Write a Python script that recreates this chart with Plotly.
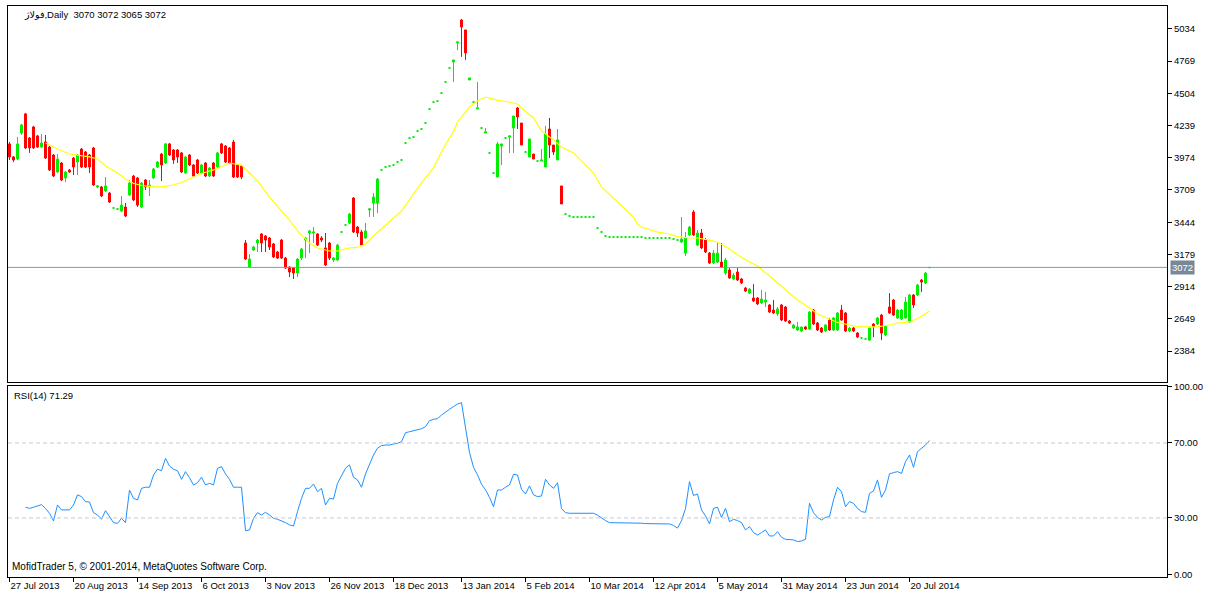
import plotly.graph_objects as go

# ---------------- data ----------------
symbol_title = "فولاژ,Daily  3070 3072 3065 3072"
rsi_title = "RSI(14) 71.29"
footer_text = "MofidTrader 5, © 2001-2014, MetaQuotes Software Corp."
last_price = 3072

tick_bars = [0, 16, 32, 48, 64, 80, 96, 113, 129, 145, 161, 177, 193, 209, 225]
tick_dates = ["27 Jul 2013", "20 Aug 2013", "14 Sep 2013", "6 Oct 2013", "3 Nov 2013",
              "26 Nov 2013", "18 Dec 2013", "13 Jan 2014", "5 Feb 2014", "10 Mar 2014",
              "12 Apr 2014", "5 May 2014", "31 May 2014", "23 Jun 2014", "20 Jul 2014"]

price_ticks = [5034, 4769, 4504, 4239, 3974, 3709, 3444, 3179, 2914, 2649, 2384]
rsi_ticks = [0, 30, 70, 100]
rsi_tick_text = ["0.00", "30.00", "70.00", "100.00"]
rsi_levels = [30, 70]

opens = [
    4088, 3981, 3964, 4178, 4335, 4137, 4228, 4154, 4063, 4104,
    4063, 3997, 3857, 3931, 3808, 3874, 3972, 3939, 4046, 4022,
    3997, 4055, 3734, 3734, 3701, 3684, 3561, 3553, 3536, 3569,
    3668, 3824, 3808, 3569, 3791, 3734, 3808, 3898, 4005, 3931,
    4088, 4038, 4038, 4014, 3849, 3997, 3915, 3956, 3849, 3931,
    3824, 3931, 3898, 4088, 4071, 4055, 4104, 3915, 3906,
    3273, 3075, 3215, 3273, 3347, 3330, 3314, 3265, 3199, 3297,
    3149, 3075, 3067, 3026, 3149, 3297, 3355, 3355, 3347, 3314,
    3232, 3273, 3133, 3133, 3363, 3421, 3437, 3643, 3404, 3363,
    3314, 3544, 3602, 3602, 3874, 3898, 3906, 3915, 3939, 3956,
    4096, 4137, 4145, 4195, 4211, 4260, 4376, 4433, 4441, 4507, 4598, 4713,
    4762, 4919, 5108, 5026, 4614, 4433, 4376, 4219, 4178, 4014,
    3849, 3816, 4071, 4137, 4145, 4219, 4384, 4260, 4022, 3981,
    4005, 3948, 3948, 3898, 4211, 4079, 3956, 3742, 3511, 3495,
    3487, 3487, 3487, 3487, 3487, 3487, 3396, 3363, 3330,
    3322, 3322, 3322, 3322, 3322, 3322, 3322, 3322, 3322,
    3314, 3314, 3314, 3314, 3314, 3314, 3314, 3306, 3297,
    3281, 3190, 3339, 3528, 3256, 3355, 3297, 3190, 3108, 3116,
    3116, 3026, 3051, 2977, 3034, 2977, 2902, 2861, 2820, 2820,
    2779, 2787, 2763, 2721, 2689, 2763, 2746, 2631, 2573, 2557,
    2549, 2582, 2565, 2721, 2614, 2573, 2549, 2639, 2557, 2557,
    2721, 2697, 2549, 2573, 2532, 2491, 2483, 2474, 2606, 2606,
    2680, 2516, 2746, 2804, 2656, 2647, 2656, 2623, 2845, 2845,
    2968, 2944, 3070,
]
highs = [
    4104, 3989, 4145, 4252, 4343, 4145, 4236, 4162, 4170, 4162,
    4071, 4005, 4005, 3939, 3865, 3882, 3981, 4005, 4055, 4030,
    4005, 4063, 3750, 3742, 3816, 3693, 3561, 3553, 3660, 3602,
    3791, 3832, 3816, 3775, 3799, 3791, 3890, 3948, 4014, 4096,
    4096, 4046, 4046, 4022, 3989, 4005, 3923, 3964, 3923, 3939,
    3898, 3939, 4022, 4096, 4079, 4063, 4121, 3923, 3915,
    3297, 3182, 3248, 3306, 3355, 3339, 3322, 3273, 3207, 3306,
    3158, 3083, 3075, 3149, 3232, 3322, 3380, 3404, 3355, 3330,
    3355, 3281, 3158, 3265, 3363, 3421, 3520, 3651, 3413, 3380,
    3437, 3561, 3684, 3808, 3874, 3898, 3906, 3915, 3939, 3956,
    4096, 4137, 4145, 4195, 4211, 4260, 4376, 4433, 4441, 4507, 4598, 4713,
    4779, 4927, 5116, 5026, 4631, 4433, 4598, 4219, 4219, 4014,
    3849, 4104, 4088, 4137, 4154, 4318, 4392, 4260, 4022, 4129,
    4005, 3948, 4046, 4236, 4302, 4079, 4211, 3742, 3511, 3495,
    3487, 3487, 3487, 3487, 3487, 3487, 3396, 3363, 3330,
    3322, 3322, 3322, 3322, 3322, 3322, 3322, 3322, 3322,
    3314, 3314, 3314, 3314, 3314, 3314, 3314, 3306, 3297,
    3487, 3363, 3413, 3544, 3380, 3388, 3314, 3199, 3215, 3273,
    3273, 3149, 3067, 3026, 3067, 2985, 2911, 2902, 2935, 2828,
    2886, 2870, 2771, 2804, 2746, 2771, 2754, 2639, 2606, 2623,
    2582, 2590, 2713, 2730, 2623, 2582, 2606, 2656, 2664, 2705,
    2763, 2705, 2582, 2582, 2540, 2491, 2483, 2582, 2614, 2664,
    2689, 2598, 2861, 2812, 2730, 2730, 2828, 2853, 2853, 2935,
    2977, 3034, 3072,
]
lows = [
    3956, 3939, 3956, 4162, 4046, 4014, 4046, 4055, 4055, 3964,
    3865, 3816, 3849, 3783, 3775, 3849, 3832, 3832, 3890, 3890,
    3849, 3742, 3725, 3651, 3693, 3602, 3561, 3553, 3528, 3487,
    3660, 3618, 3569, 3561, 3709, 3660, 3799, 3890, 3783, 3923,
    3989, 3923, 3931, 3849, 3841, 3906, 3816, 3841, 3841, 3816,
    3816, 3816, 3890, 4005, 3931, 3923, 3808, 3808, 3799,
    3133, 3067, 3207, 3199, 3199, 3199, 3215, 3149, 3141, 3141,
    3059, 2993, 2977, 2993, 3133, 3149, 3190, 3273, 3248, 3281,
    3083, 3133, 3116, 3125, 3363, 3421, 3429, 3355, 3322, 3248,
    3306, 3487, 3487, 3520, 3874, 3898, 3906, 3915, 3939, 3956,
    4096, 4137, 4145, 4195, 4211, 4260, 4376, 4433, 4441, 4507, 4598, 4713,
    4598, 4861, 4804, 4779, 4614, 4433, 4376, 4219, 4178, 4014,
    3849, 3816, 3915, 4137, 4014, 4014, 4211, 4079, 4022, 3981,
    3964, 3948, 3948, 3898, 3972, 3997, 3956, 3594, 3511, 3495,
    3487, 3487, 3487, 3487, 3487, 3487, 3396, 3363, 3330,
    3322, 3322, 3322, 3322, 3322, 3322, 3322, 3322, 3322,
    3314, 3314, 3314, 3314, 3314, 3314, 3314, 3306, 3297,
    3273, 3166, 3330, 3330, 3248, 3223, 3190, 3100, 3100, 3108,
    3067, 3009, 2977, 2968, 2960, 2935, 2870, 2853, 2787, 2763,
    2771, 2746, 2697, 2689, 2672, 2631, 2623, 2606, 2565, 2549,
    2540, 2557, 2557, 2598, 2549, 2532, 2540, 2549, 2549, 2549,
    2631, 2540, 2540, 2540, 2491, 2491, 2483, 2466, 2499, 2598,
    2474, 2507, 2689, 2672, 2647, 2639, 2647, 2614, 2738, 2837,
    2870, 2935, 3065,
]
closes = [
    3981, 3956, 4088, 4244, 4055, 4055, 4055, 4063, 4096, 3972,
    3874, 3824, 3964, 3791, 3857, 3857, 3898, 3997, 3898, 3898,
    3898, 3750, 3742, 3660, 3742, 3610, 3561, 3553, 3585, 3495,
    3767, 3627, 3585, 3767, 3734, 3750, 3882, 3939, 3915, 4088,
    3997, 3956, 3981, 3857, 3981, 3915, 3824, 3849, 3915, 3824,
    3890, 3824, 4014, 4014, 3939, 3931, 3816, 3816, 3816,
    3141, 3141, 3240, 3297, 3273, 3297, 3240, 3158, 3149, 3149,
    3067, 3034, 3026, 3141, 3223, 3314, 3372, 3363, 3256, 3297,
    3092, 3149, 3149, 3256, 3363, 3421, 3511, 3363, 3355, 3256,
    3372, 3553, 3651, 3799, 3874, 3898, 3906, 3915, 3939, 3956,
    4096, 4137, 4145, 4195, 4211, 4260, 4376, 4433, 4441, 4507, 4598, 4713,
    4779, 4927, 5050, 4837, 4631, 4433, 4384, 4219, 4187, 4014,
    3849, 4088, 4088, 4137, 4154, 4318, 4310, 4079, 4022, 4129,
    3964, 3948, 3956, 4170, 4079, 4022, 4121, 3594, 3511, 3495,
    3487, 3487, 3487, 3487, 3487, 3487, 3396, 3363, 3330,
    3322, 3322, 3322, 3322, 3322, 3322, 3322, 3322, 3322,
    3314, 3314, 3314, 3314, 3314, 3314, 3314, 3306, 3297,
    3306, 3314, 3404, 3339, 3355, 3232, 3199, 3108, 3190, 3190,
    3075, 3133, 2985, 3009, 2968, 2944, 2878, 2894, 2796, 2771,
    2812, 2804, 2705, 2697, 2730, 2639, 2631, 2614, 2598, 2582,
    2582, 2565, 2705, 2606, 2557, 2540, 2598, 2557, 2656, 2697,
    2639, 2549, 2573, 2549, 2499, 2491, 2483, 2573, 2582, 2656,
    2532, 2590, 2697, 2680, 2721, 2721, 2787, 2845, 2763, 2927,
    2952, 3026, 3072,
]

# yellow moving average, read at these bars
ma_bars = [9, 10, 12, 15, 18, 20, 22, 24, 27, 29, 31, 33, 36, 38, 41, 43, 46, 48, 51, 53,
           55, 57, 58, 60, 62, 65, 67, 68, 70, 72, 75, 77, 80, 82, 85, 87, 89, 91, 93, 96,
           98, 101, 103, 106, 108, 110, 111, 112, 113, 115, 117, 119, 121, 122, 125, 127, 128,
           131, 133, 136, 138, 141, 143, 146, 148, 151, 153, 156, 157, 158, 160, 162, 165, 167,
           170, 172, 175, 177, 180, 182, 185, 187, 190, 192, 195, 197, 200, 202, 205, 207, 210,
           212, 215, 217, 220, 222, 225, 227, 229, 230]
ma_vals = [4096, 4079, 4046, 4005, 3989, 3981, 3964, 3906, 3849, 3799, 3763, 3746, 3734, 3734,
           3750, 3771, 3816, 3845, 3874, 3903, 3931, 3919, 3915, 3849, 3783, 3651, 3577, 3544,
           3462, 3372, 3273, 3232, 3207, 3207, 3232, 3236, 3265, 3330, 3388, 3470, 3536, 3676,
           3767, 3890, 4022, 4137, 4187, 4269, 4310, 4392, 4441, 4474, 4457, 4446, 4433, 4417,
           4384, 4302, 4195, 4121, 4063, 4014, 3948, 3849, 3734, 3643, 3585, 3487, 3429, 3404,
           3384, 3363, 3347, 3326, 3314, 3314, 3297, 3281, 3223, 3174, 3116, 3083, 3001, 2944,
           2861, 2804, 2738, 2689, 2647, 2619, 2598, 2582, 2582, 2582, 2598, 2614, 2623, 2652,
           2689, 2713]

rsi = [None, None, None, None,
       35.7, 35.1, 35.7, 36.4, 37.1, 35.1,
       32.5, 28.4, 36.9, 34.3, 34.3, 34.3, 36.9, 42.3, 41.4, 38.7,
       38.5, 32.8, 31.6, 29.3, 33.9, 30.7, 27.5, 27.1, 29.8, 27.5,
       44.9, 40.5, 39.6, 45.8, 46.4, 46.4, 52.9, 56.0, 55.2, 61.8,
       57.7, 56.0, 55.2, 50.6, 54.7, 51.5, 47.6, 48.8, 51.7, 47.6,
       48.5, 47.6, 56.5, 57.4, 53.5, 50.6, 46.4, 46.4, 46.4,
       23.2, 23.6, 29.8, 32.8, 31.6, 33.0, 31.6, 29.8, 29.3, 28.6,
       27.5, 26.3, 25.7, 33.4, 40.5, 45.8, 45.8, 48.1, 44.0, 45.8,
       36.9, 40.5, 40.1, 48.5, 52.4, 56.5, 58.3, 51.7, 50.3, 46.4,
       53.5, 58.3, 63.6, 67.2, 68.6, 68.9, 68.9, 69.5, 69.8, 70.7,
       75.5, 76.0, 76.6, 77.3, 77.6, 78.7, 81.9, 82.6, 83.0, 84.9,
       86.7, 88.0, 89.4, 90.8, 91.5,
       77.0, 65.0, 57.0, 53.0, 48.0, 45.0, 41.0, 36.0,
       44.9, 44.9, 46.4, 47.6, 53.3, 52.9, 45.3, 42.8, 47.1, 42.3,
       41.4, 41.7, 50.6, 47.6, 45.8, 48.8, 35.1, 32.8, 32.5,
       32.5, 32.5, 32.5, 32.5, 32.5, 32.5, 31.5, 29.8, 28.6, 27.5,
       27.5, 27.4, 27.4, 27.3, 27.3, 27.3, 27.2, 27.2, 27.0, 27.0,
       27.0, 26.9, 26.9, 26.9, 26.8, 26.0, 24.6,
       28.5, 35.0, 49.4, 42.0, 42.8, 34.3, 31.1, 26.8, 35.1, 35.7,
       30.3, 35.1, 28.0, 29.3, 28.6, 27.5, 23.6, 25.4, 22.2, 20.9,
       22.2, 23.6, 20.4, 20.4, 22.7, 19.7, 18.6, 18.6, 18.3, 17.4,
       17.7, 18.6, 37.8, 32.8, 30.3, 28.9, 30.3, 30.7, 39.6, 46.4,
       44.0, 36.0, 38.7, 37.8, 35.1, 33.4, 33.0, 43.1, 44.4, 50.3,
       41.0, 44.9, 53.5, 54.2, 54.7, 53.8, 60.0, 63.6, 57.0, 65.4,
       67.2, 68.9, 71.29]

n = len(closes)
assert len(opens) == n and len(highs) == n and len(lows) == n and len(rsi) == n, (
    len(opens), len(highs), len(lows), len(closes), len(rsi))
bars = list(range(n))

# ---------------- styling ----------------
GREEN = "#00ee00"
RED = "#ff0000"
FONT = "Liberation Sans, DejaVu Sans, sans-serif"
FS = 9.5

moving = [i for i in bars if opens[i] != closes[i]]
flat = [i for i in bars if opens[i] == closes[i]]

fig = go.Figure()
fig.add_trace(go.Candlestick(
    x=moving, open=[opens[i] for i in moving], high=[highs[i] for i in moving],
    low=[lows[i] for i in moving], close=[closes[i] for i in moving],
    increasing=dict(line=dict(color=GREEN, width=1), fillcolor=GREEN),
    decreasing=dict(line=dict(color=RED, width=1), fillcolor=RED),
    whiskerwidth=0, showlegend=False, hoverinfo="skip", xaxis="x", yaxis="y"))
fig.add_trace(go.Candlestick(
    x=flat, open=[opens[i] for i in flat], high=[highs[i] for i in flat],
    low=[lows[i] for i in flat], close=[closes[i] for i in flat],
    increasing=dict(line=dict(color=GREEN, width=2), fillcolor=GREEN),
    decreasing=dict(line=dict(color=GREEN, width=2), fillcolor=GREEN),
    whiskerwidth=0, showlegend=False, hoverinfo="skip", xaxis="x", yaxis="y"))
fig.add_trace(go.Scatter(x=ma_bars, y=ma_vals, mode="lines",
                         line=dict(color="#ffff00", width=1.2),
                         showlegend=False, hoverinfo="skip", xaxis="x", yaxis="y"))
fig.add_trace(go.Scatter(x=bars, y=rsi, mode="lines",
                         line=dict(color="#1e90ff", width=1),
                         showlegend=False, hoverinfo="skip", xaxis="x2", yaxis="y2"))

xr = [-0.375, 289.375]
axis_common = dict(showline=True, mirror=True, linecolor="black", linewidth=1,
                   showgrid=False, zeroline=False, automargin=False)

fig.update_layout(
    width=1213, height=592, template="none",
    margin=dict(l=8, r=46, t=6, b=15),
    paper_bgcolor="white", plot_bgcolor="white",
    font=dict(family=FONT, size=FS, color="black"),
    boxgap=0.3, boxgroupgap=0.3,
    xaxis=dict(domain=[0, 1], anchor="y", range=xr, showticklabels=False, ticks="",
               rangeslider=dict(visible=False), **axis_common),
    yaxis=dict(domain=[0.3415, 1.0], anchor="x", side="right", range=[2129, 5223],
               tickvals=price_ticks, ticks="outside", ticklen=4, tickcolor="black",
               tickfont=dict(size=FS), **axis_common),
    xaxis2=dict(domain=[0, 1], anchor="y2", range=xr, matches="x",
                tickvals=tick_bars, ticktext=tick_dates, ticks="outside", ticklen=4,
                tickcolor="black", ticklabelposition="outside right",
                tickfont=dict(size=FS), rangeslider=dict(visible=False), **axis_common),
    yaxis2=dict(domain=[0, 0.3345], anchor="x2", side="right", range=[-1.5, 100.4],
                tickvals=rsi_ticks, ticktext=rsi_tick_text, ticks="outside", ticklen=4,
                tickcolor="black", tickfont=dict(size=FS), **axis_common),
)

# last price line and RSI level lines
fig.add_shape(type="line", xref="x domain", yref="y", x0=0, x1=1, y0=last_price, y1=last_price,
              line=dict(color="#8a96a3", width=1))
for lv in rsi_levels:
    fig.add_shape(type="line", xref="x2 domain", yref="y2", x0=0, x1=1, y0=lv, y1=lv,
                  line=dict(color="#c8c8c8", width=1, dash="4px,3px"))

fig.add_annotation(xref="paper", yref="y", x=1, y=last_price, xanchor="left", yanchor="middle",
                   xshift=3, text=str(last_price), showarrow=False, bgcolor="#778899",
                   borderpad=1, font=dict(color="white", size=FS, family=FONT))
fig.add_annotation(xref="paper", yref="paper", x=0.012, y=1.0, xanchor="left", yanchor="top",
                   yshift=-1, text=symbol_title, showarrow=False,
                   font=dict(size=FS, family=FONT))
fig.add_annotation(xref="paper", yref="paper", x=0.0035, y=0.3345, xanchor="left", yanchor="top",
                   yshift=-2, text=rsi_title, showarrow=False, font=dict(size=FS, family=FONT))
fig.add_annotation(xref="paper", yref="paper", x=0.0015, y=0.0, xanchor="left", yanchor="bottom",
                   yshift=3, text=footer_text, showarrow=False, font=dict(size=FS + 0.5, family=FONT))

fig.write_html("out.html", config={"displayModeBar": False},
               post_script="document.body.style.margin='0';")
